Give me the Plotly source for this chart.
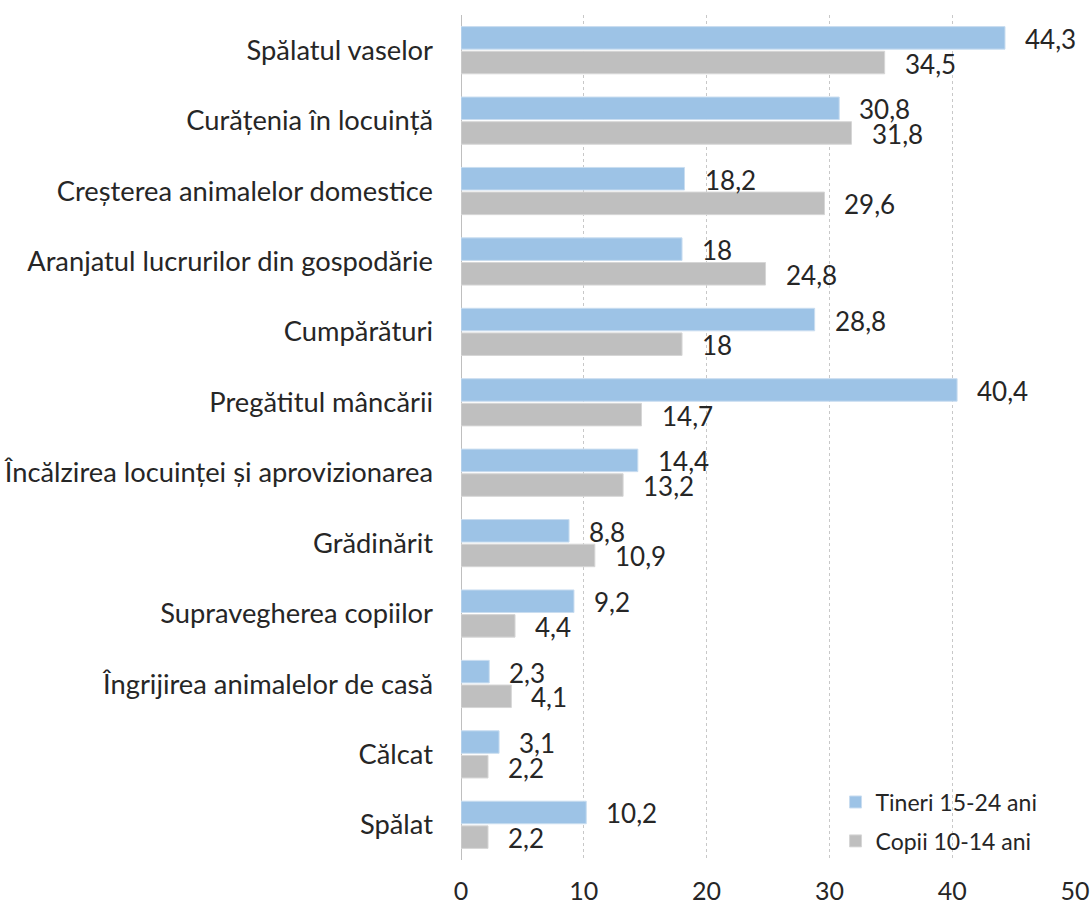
import plotly.graph_objects as go

categories = ["Spălatul vaselor", "Curățenia în locuință", "Creșterea animalelor domestice",
              "Aranjatul lucrurilor din gospodărie", "Cumpărături", "Pregătitul mâncării",
              "Încălzirea locuinței și aprovizionarea", "Grădinărit", "Supravegherea copiilor",
              "Îngrijirea animalelor de casă", "Călcat", "Spălat"]
tineri = [44.3, 30.8, 18.2, 18, 28.8, 40.4, 14.4, 8.8, 9.2, 2.3, 3.1, 10.2]
copii = [34.5, 31.8, 29.6, 24.8, 18, 14.7, 13.2, 10.9, 4.4, 4.1, 2.2, 2.2]
x_ticks = [0, 10, 20, 30, 40, 50]

FONT = "Lato"
FS = 26
TXT = "#262626"

def fmt(v):
    return ("%g" % v).replace(".", ",")

pos = list(range(len(categories)))
BW = 0.32
fig = go.Figure()
fig.add_trace(go.Bar(y=pos, x=tineri, orientation="h", name="Tineri 15-24 ani",
                     width=BW, offset=-0.335, legendgroup="t",
                     marker=dict(color="#9DC3E6", line=dict(color="#C9DDF0", width=1))))
fig.add_trace(go.Bar(y=pos, x=copii, orientation="h", name="Copii 10-14 ani",
                     width=BW, offset=0.015, legendgroup="c",
                     marker=dict(color="#BFBFBF", line=dict(color="#D6D6D6", width=1))))

for i in pos:
    fig.add_annotation(x=tineri[i], y=i - 0.175, text=fmt(tineri[i]), showarrow=False,
                       xanchor="left", yanchor="middle", xshift=18, yshift=-1,
                       font=dict(family=FONT, size=FS, color=TXT))
    fig.add_annotation(x=copii[i], y=i + 0.175, text=fmt(copii[i]), showarrow=False,
                       xanchor="left", yanchor="middle", xshift=18, yshift=-1,
                       font=dict(family=FONT, size=FS, color=TXT))

fig.update_layout(
    width=1092, height=906,
    margin=dict(l=461, r=17, t=15, b=46, autoexpand=False),
    barmode="overlay",
    plot_bgcolor="white", paper_bgcolor="white",
    font=dict(family=FONT, size=FS, color=TXT),
    showlegend=True,
    legend=dict(x=0.61, y=-0.003, xanchor="left", yanchor="bottom",
                bgcolor="rgba(255,255,255,0)", font=dict(size=23, color=TXT),
                itemwidth=30, tracegroupgap=6),
)
fig.update_xaxes(range=[0, 50], tickvals=x_ticks, ticktext=[str(t) for t in x_ticks],
                 showgrid=True, gridcolor="#C8C8C8", griddash="dot", gridwidth=1,
                 zeroline=True, zerolinecolor="#BFBFBF", zerolinewidth=1, automargin=False,
                 ticks="", tickfont=dict(size=25, color=TXT), ticklabelstandoff=14)
fig.update_yaxes(range=[len(categories) - 0.5, -0.5], tickvals=pos, ticktext=categories,
                 showgrid=False, zeroline=False, ticks="", automargin=False,
                 tickfont=dict(size=27.3, color=TXT), ticklabelstandoff=27)

fig.write_html("out.html", config={"displayModeBar": False},
               post_script="document.body.style.margin='0';document.body.style.overflow='hidden';")
